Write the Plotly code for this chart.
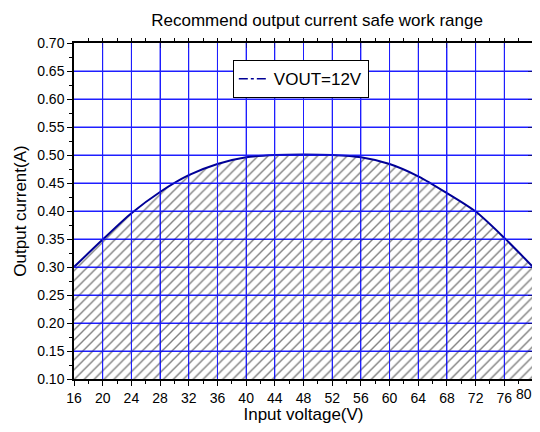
import plotly.graph_objects as go

voltage = [16, 20, 24, 28, 32, 36, 40, 44, 48, 52, 56, 60, 64, 68, 72, 76, 80]
current = [0.300, 0.349, 0.396, 0.434, 0.464, 0.484, 0.496, 0.500, 0.501, 0.500, 0.496, 0.484, 0.462, 0.432, 0.399, 0.352, 0.300]
x_ticks = list(range(16, 81, 4))
x_tick_labels = [str(v) for v in x_ticks]
y_ticks = [round(0.10 + 0.05 * i, 2) for i in range(13)]
y_tick_labels = [f"{v:.2f}" for v in y_ticks]

font = "Liberation Sans, Arial, sans-serif"
line_col = "rgb(0,0,150)"
grid_col = "rgb(30,30,255)"

fig = go.Figure()
fig.add_trace(go.Scatter(
    x=voltage, y=current, mode="lines", line=dict(color="rgba(0,0,0,0)", width=0, shape="spline", smoothing=0.8),
    fill="tozeroy", fillcolor="rgba(0,0,0,0)",
    fillpattern=dict(shape="/", fgcolor="black", bgcolor="rgba(255,255,255,0)", size=7, solidity=0.2),
    showlegend=False, hoverinfo="skip",
))
fig.add_trace(go.Scatter(
    x=voltage, y=current, mode="lines", line=dict(color=line_col, width=2, shape="spline", smoothing=0.8),
    xaxis="x3", yaxis="y3", showlegend=False,
))
fig.add_trace(go.Scatter(
    x=[None], y=[None], mode="lines", name="VOUT=12V",
    line=dict(color=line_col, width=1.5, dash="dashdot"),
))
fig.add_trace(go.Scatter(x=[16], y=[0.1], xaxis="x2", yaxis="y2", mode="markers",
                         marker=dict(opacity=0), showlegend=False, hoverinfo="skip"))

common_x = dict(range=[16, 80], tickvals=x_ticks, showline=True, linecolor="black", linewidth=1.5,
                ticklen=5, tickwidth=1, tickcolor="black", ticklabeloverflow="allow",
                minor=dict(dtick=2, tick0=16, ticklen=3, tickcolor="black", showgrid=False))
common_y = dict(range=[0.10, 0.70], tickvals=y_ticks, showline=True, linecolor="black", linewidth=1.5,
                ticklen=5, tickwidth=1, tickcolor="black", ticklabeloverflow="allow",
                minor=dict(dtick=0.025, tick0=0.1, ticklen=3, tickcolor="black", showgrid=False))

fig.update_layout(
    width=532, height=416,
    margin=dict(l=66, r=7, t=35, b=45, autoexpand=False),
    paper_bgcolor="white", plot_bgcolor="white",
    font=dict(family=font, size=14, color="black"),
    title=dict(text="Recommend output current safe work range", x=0.581, xanchor="center",
               y=1 - 12 / 416, yanchor="middle", font=dict(size=17)),
    xaxis=dict(**common_x, ticks="outside", showgrid=True, gridcolor=grid_col, gridwidth=1,
               ticktext=x_tick_labels[:-1] + [""],
               title=dict(text="Input voltage(V)", font=dict(size=17), standoff=4),
               tickfont=dict(size=14)),
    yaxis=dict(**common_y, ticks="outside", showgrid=True, gridcolor=grid_col, gridwidth=1,
               ticktext=y_tick_labels,
               title=dict(text="Output current(A)", font=dict(size=17), standoff=6),
               tickfont=dict(size=14)),
    xaxis2=dict(**common_x, overlaying="x", side="top", ticks="inside", showticklabels=False, showgrid=False),
    yaxis2=dict(**common_y, overlaying="y", side="right", ticks="inside", showticklabels=False, showgrid=False),
    xaxis3=dict(range=[16, 80], overlaying="x", visible=False, showgrid=False),
    yaxis3=dict(range=[0.10, 0.70], overlaying="y", visible=False, showgrid=False),
    legend=dict(x=0.346, y=0.949, xanchor="left", yanchor="top", bgcolor="white",
                bordercolor="black", borderwidth=1, font=dict(size=17),
                itemwidth=30, tracegroupgap=0),
)
# last x tick label as annotation, right-aligned so it stays inside the visible page
fig.add_annotation(x=x_ticks[-1], y=0, xref="x", yref="paper", text=x_tick_labels[-1],
                   showarrow=False, xanchor="right", yanchor="top", yshift=-5, xshift=1,
                   font=dict(size=14))
# grid lines redrawn above the hatch, positioned from the tick arrays
for xv in x_ticks[1:-1]:
    fig.add_shape(type="line", xref="x", yref="paper", x0=xv, x1=xv, y0=0, y1=1,
                  line=dict(color=grid_col, width=1), layer="above")
for yv in y_ticks[1:-1]:
    fig.add_shape(type="line", xref="paper", yref="y", x0=0, x1=1, y0=yv, y1=yv,
                  line=dict(color=grid_col, width=1), layer="above")
fig.write_html("out.html")
